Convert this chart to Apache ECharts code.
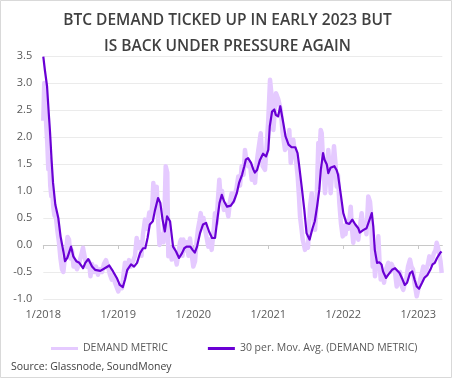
<!DOCTYPE html>
<html><head><meta charset="utf-8">
<script src="https://cdn.jsdelivr.net/npm/echarts@6/dist/echarts.min.js"></script>
<style>html,body{margin:0;padding:0;background:#fff}#c{width:455px;height:379px}</style>
</head><body><div id="c"></div>
<script>
var titleLines = ['BTC DEMAND TICKED UP IN EARLY 2023 BUT', 'IS BACK UNDER PRESSURE AGAIN'];
var sourceText = 'Source: Glassnode, SoundMoney';
var seriesNames = ['DEMAND METRIC', '30 per. Mov. Avg. (DEMAND METRIC)'];
var yearTicks = [2018, 2019, 2020, 2021, 2022, 2023];
var yTickValues = [-1.0, -0.5, 0.0, 0.5, 1.0, 1.5, 2.0, 2.5, 3.0, 3.5];

// time in decimal years
var rawTime = [2018.000,2018.013,2018.027,2018.040,2018.053,2018.067,2018.080,2018.093,2018.107,2018.120,2018.133,2018.149,2018.169,2018.189,2018.209,2018.229,2018.249,2018.267,2018.283,2018.303,2018.323,2018.343,2018.363,2018.383,2018.403,2018.423,2018.449,2018.476,2018.503,2018.529,2018.556,2018.583,2018.609,2018.629,2018.649,2018.676,2018.703,2018.729,2018.756,2018.783,2018.809,2018.836,2018.863,2018.889,2018.912,2018.936,2018.956,2018.979,2019.000,2019.023,2019.049,2019.069,2019.089,2019.116,2019.143,2019.169,2019.196,2019.223,2019.245,2019.269,2019.289,2019.309,2019.329,2019.356,2019.383,2019.413,2019.436,2019.456,2019.467,2019.483,2019.503,2019.512,2019.533,2019.549,2019.565,2019.583,2019.603,2019.616,2019.632,2019.653,2019.667,2019.689,2019.712,2019.736,2019.756,2019.779,2019.803,2019.823,2019.836,2019.856,2019.867,2019.889,2019.912,2019.936,2019.956,2019.976,2020.000,2020.023,2020.043,2020.063,2020.083,2020.099,2020.116,2020.136,2020.156,2020.176,2020.200,2020.223,2020.245,2020.263,2020.276,2020.289,2020.309,2020.329,2020.347,2020.363,2020.383,2020.396,2020.409,2020.436,2020.467,2020.489,2020.512,2020.529,2020.549,2020.576,2020.600,2020.623,2020.645,2020.669,2020.689,2020.709,2020.733,2020.756,2020.779,2020.803,2020.823,2020.843,2020.867,2020.899,2020.925,2020.956,2020.976,2021.000,2021.023,2021.045,2021.067,2021.083,2021.103,2021.133,2021.165,2021.192,2021.223,2021.253,2021.280,2021.299,2021.316,2021.333,2021.356,2021.369,2021.392,2021.409,2021.423,2021.443,2021.459,2021.476,2021.489,2021.509,2021.529,2021.543,2021.556,2021.579,2021.603,2021.623,2021.645,2021.667,2021.683,2021.699,2021.712,2021.729,2021.756,2021.776,2021.800,2021.816,2021.832,2021.853,2021.876,2021.896,2021.912,2021.929,2021.947,2021.969,2021.992,2022.009,2022.029,2022.049,2022.069,2022.099,2022.116,2022.133,2022.156,2022.176,2022.200,2022.223,2022.245,2022.269,2022.289,2022.309,2022.333,2022.356,2022.369,2022.392,2022.409,2022.423,2022.443,2022.467,2022.483,2022.499,2022.523,2022.543,2022.569,2022.600,2022.623,2022.643,2022.667,2022.689,2022.712,2022.736,2022.756,2022.776,2022.800,2022.823,2022.843,2022.863,2022.889,2022.909,2022.929,2022.949,2022.979,2023.003,2023.023,2023.043,2023.067,2023.089,2023.109,2023.129,2023.147,2023.169,2023.189,2023.209,2023.229,2023.245,2023.263,2023.283,2023.296,2023.312];
var rawValue = [2.30,3.00,2.60,2.20,1.90,1.40,1.60,1.10,0.90,1.00,0.70,0.55,0.50,0.25,0.05,-0.25,-0.45,-0.50,-0.30,-0.10,0.15,0.10,-0.25,-0.10,-0.40,-0.30,-0.45,-0.35,-0.20,-0.05,-0.25,-0.40,-0.30,-0.58,-0.35,-0.50,-0.40,-0.55,-0.45,-0.50,-0.35,-0.28,-0.40,-0.55,-0.64,-0.55,-0.70,-0.72,-0.86,-0.75,-0.80,-0.55,-0.33,-0.45,-0.28,-0.40,-0.30,-0.20,0.13,-0.05,0.05,-0.20,0.20,0.47,0.30,0.60,0.50,0.80,1.15,0.70,0.95,1.08,0.40,0.00,-0.03,0.20,0.05,0.60,1.46,1.34,-0.21,-0.05,-0.27,-0.05,-0.20,-0.36,-0.15,0.05,0.10,-0.20,0.10,-0.10,0.05,-0.20,0.12,-0.15,-0.40,-0.30,0.05,0.30,0.45,0.59,0.35,0.50,0.30,0.15,-0.03,0.10,-0.09,0.15,0.35,0.59,0.40,0.85,1.21,0.90,1.00,0.75,0.65,0.75,0.53,0.80,0.96,0.80,0.90,1.05,1.27,1.10,1.46,1.30,1.76,1.55,1.46,1.50,1.21,1.30,1.15,1.50,1.76,2.07,1.46,1.39,1.80,2.32,3.06,2.75,2.13,2.40,2.81,2.70,2.51,2.07,1.76,1.83,2.13,1.52,1.70,1.95,1.70,1.58,1.27,0.90,0.53,0.30,0.10,0.00,-0.09,0.00,-0.05,0.30,0.71,0.96,0.60,0.28,0.84,1.89,1.70,2.13,2.07,1.60,0.96,1.30,1.76,1.40,0.96,1.40,1.83,1.50,1.08,1.30,0.78,0.40,0.16,0.35,0.20,0.45,0.30,0.71,0.30,0.04,0.35,0.20,0.10,0.35,0.59,0.30,0.40,0.20,0.90,0.80,0.60,-0.40,-0.20,-0.58,-0.30,0.16,-0.30,-0.64,-0.50,-0.70,-0.45,-0.33,-0.50,-0.35,-0.33,-0.50,-0.77,-0.60,-0.50,-0.75,-0.83,-0.70,-0.60,-0.40,-0.27,-0.40,-0.45,-0.70,-0.95,-0.80,-0.65,-0.55,-0.40,-0.55,-0.45,-0.35,-0.21,-0.35,-0.25,-0.15,-0.10,0.04,-0.05,-0.20,-0.30,-0.52];

var maTime = [2018.00,2018.02,2018.05,2018.07,2018.09,2018.11,2018.13,2018.16,2018.20,2018.23,2018.27,2018.29,2018.32,2018.37,2018.40,2018.44,2018.48,2018.53,2018.56,2018.60,2018.65,2018.69,2018.76,2018.82,2018.88,2018.93,2018.98,2019.02,2019.06,2019.09,2019.12,2019.17,2019.21,2019.25,2019.29,2019.33,2019.36,2019.39,2019.42,2019.46,2019.49,2019.53,2019.56,2019.59,2019.62,2019.65,2019.69,2019.73,2019.77,2019.81,2019.85,2019.88,2019.91,2019.96,2019.99,2020.02,2020.05,2020.09,2020.13,2020.17,2020.21,2020.25,2020.29,2020.32,2020.35,2020.38,2020.41,2020.45,2020.50,2020.54,2020.58,2020.61,2020.65,2020.68,2020.70,2020.73,2020.77,2020.80,2020.82,2020.85,2020.89,2020.93,2020.97,2021.00,2021.02,2021.05,2021.08,2021.10,2021.13,2021.16,2021.18,2021.20,2021.23,2021.27,2021.31,2021.36,2021.39,2021.41,2021.45,2021.48,2021.51,2021.55,2021.57,2021.59,2021.62,2021.65,2021.68,2021.70,2021.73,2021.75,2021.78,2021.80,2021.83,2021.88,2021.91,2021.93,2021.97,2022.00,2022.04,2022.08,2022.12,2022.16,2022.20,2022.22,2022.27,2022.31,2022.35,2022.38,2022.40,2022.42,2022.45,2022.48,2022.51,2022.53,2022.57,2022.60,2022.65,2022.69,2022.71,2022.75,2022.79,2022.82,2022.85,2022.89,2022.92,2022.95,2022.98,2023.01,2023.05,2023.08,2023.12,2023.16,2023.19,2023.22,2023.25,2023.29,2023.31];
var maValue = [3.49,3.25,2.94,2.50,2.08,1.58,1.15,0.75,0.50,0.16,-0.14,-0.30,-0.24,-0.03,-0.21,-0.30,-0.33,-0.43,-0.33,-0.26,-0.40,-0.46,-0.48,-0.43,-0.38,-0.49,-0.61,-0.74,-0.78,-0.64,-0.46,-0.36,-0.40,-0.33,-0.15,-0.06,-0.06,0.13,0.38,0.44,0.65,0.87,0.78,0.47,0.25,0.53,0.44,-0.03,-0.12,-0.24,-0.15,-0.06,-0.03,-0.03,-0.09,-0.14,-0.03,0.22,0.38,0.41,0.25,0.13,0.13,0.47,0.78,0.93,0.81,0.71,0.73,0.81,0.96,1.15,1.30,1.46,1.58,1.61,1.52,1.40,1.34,1.39,1.58,1.69,1.64,1.76,2.20,2.47,2.51,2.41,2.38,2.57,2.54,2.26,2.01,1.86,1.81,1.81,1.70,1.49,1.02,0.65,0.22,0.10,0.07,0.31,0.44,0.71,1.02,1.39,1.70,1.58,1.49,1.33,1.43,1.46,1.39,1.30,0.90,0.59,0.41,0.39,0.47,0.38,0.31,0.23,0.28,0.31,0.47,0.59,0.34,-0.09,-0.33,-0.32,-0.36,-0.49,-0.61,-0.55,-0.46,-0.43,-0.44,-0.52,-0.64,-0.74,-0.70,-0.52,-0.49,-0.64,-0.77,-0.81,-0.70,-0.61,-0.56,-0.46,-0.36,-0.33,-0.24,-0.15,-0.12];

function zip(a, b) { return a.map(function (t, i) { return [t, b[i]]; }); }

var LIGHT = '#e5caff', DARK = '#6a00d4', TXT = '#595959';
var chart = echarts.init(document.getElementById('c'), null, {renderer: 'canvas'});
var FONT = 'Open Sans';
chart.setOption({
  animation: false,
  backgroundColor: '#fff',
  title: {
    text: titleLines.join('\n'),
    left: 'center', top: 3,
    textStyle: {fontFamily: FONT, fontWeight: 600, fontSize: 15.5, color: '#404040', lineHeight: 26}
  },
  graphic: [
    {type: 'rect', shape: {x: 0.5, y: 0.5, width: 451, height: 377}, style: {fill: 'none', stroke: '#d9d9d9', lineWidth: 1}, silent: true, z: -1},
    {type: 'text', left: 11, top: 362, style: {text: sourceText, fontFamily: FONT, fontSize: 10.5, fill: '#404040'}}
  ],
  legend: {
    left: 46, top: 338, itemGap: 40, itemWidth: 27, itemHeight: 3,
    icon: 'rect',
    textStyle: {fontFamily: FONT, fontSize: 10.5, color: TXT},
    data: [{name: seriesNames[0], itemStyle: {color: LIGHT}}, {name: seriesNames[1], itemStyle: {color: DARK}}]
  },
  grid: {left: 43.3, right: 12.7, top: 56, bottom: 80, containLabel: false},
  xAxis: [{
    type: 'value', min: 2018, max: 2023.32, interval: 1, position: 'bottom',
    axisLine: {show: false, onZero: false}, axisTick: {show: false}, splitLine: {show: false},
    axisLabel: {customValues: yearTicks, margin: 10, fontFamily: FONT, fontSize: 11, color: TXT,
      formatter: function (v) { return '1/' + Math.round(v); }}
  }, {
    type: 'value', min: 2018, max: 2023.32, interval: 1, position: 'bottom',
    axisLine: {show: true, onZero: true, lineStyle: {color: '#c8c8c8', width: 1}},
    axisTick: {show: true, customValues: yearTicks, length: 4, lineStyle: {color: '#c8c8c8'}},
    axisLabel: {show: false}, splitLine: {show: false}
  }],
  yAxis: {
    type: 'value', min: -1, max: 3.5, interval: 0.5,
    axisLine: {show: false}, axisTick: {show: false},
    splitLine: {lineStyle: {color: '#ebebeb', width: 1}},
    axisLabel: {margin: 11, fontFamily: FONT, fontSize: 11, color: TXT,
      formatter: function (v) { return v.toFixed(1); }}
  },
  series: [{
    name: seriesNames[0], type: 'line', xAxisIndex: 0, data: zip(rawTime, rawValue),
    showSymbol: false, symbol: 'none', lineStyle: {color: LIGHT, width: 4.5, join: 'round'}, itemStyle: {color: LIGHT}, z: 2
  }, {
    name: seriesNames[1], type: 'line', xAxisIndex: 0, data: zip(maTime, maValue),
    showSymbol: false, symbol: 'none', lineStyle: {color: DARK, width: 2.2, join: 'round'}, itemStyle: {color: DARK}, z: 3
  }]
});
</script></body></html>
